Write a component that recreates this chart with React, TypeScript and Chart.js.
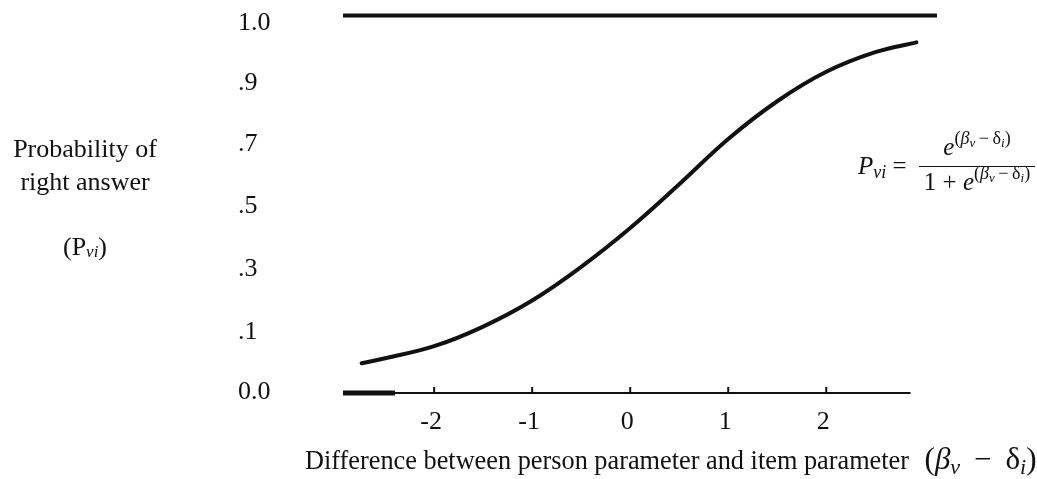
import React, { useEffect, useRef } from "react";
import { Chart, registerables } from "chart.js";

Chart.register(...registerables);

// ---- data ----
const curveX = [-2.74, -2.5, -2, -1.5, -1, -0.5, 0, 0.5, 1, 1.5, 2, 2.5, 2.92];
const curveP = [0.079, 0.092, 0.124, 0.176, 0.245, 0.334, 0.437, 0.553, 0.673, 0.773, 0.851, 0.903, 0.929];
const upperLineX = [-2.93, 3.13];
const upperLineP = [1, 1];
const baseLineX = [-2.93, 2.86];
const baseLineP = [0, 0];
const baseStubX = [-2.93, -2.4];
const baseStubP = [0, 0];
const xTickValues = [-2, -1, 0, 1, 2];
const xTickLabels = ["-2", "-1", "0", "1", "2"];
const yTickValues = [0.003, 0.16, 0.329, 0.495, 0.658, 0.82, 0.98];
const yTickLabels = ["0.0", ".1", ".3", ".5", ".7", ".9", "1.0"];
const xMin = -2.93;
const xMax = 3.13;

const SERIF = '"Liberation Serif", "Times New Roman", serif';
const INK = "#111";

type Run = { t: string; f: string; dy?: number };

const toPts = (xs: number[], ys: number[]) => xs.map((x, i) => ({ x, y: ys[i] }));

function runsWidth(ctx: CanvasRenderingContext2D, runs: Run[]) {
  let w = 0;
  for (const r of runs) {
    ctx.font = r.f;
    w += ctx.measureText(r.t).width;
  }
  return w;
}

function drawRuns(ctx: CanvasRenderingContext2D, runs: Run[], x: number, y: number) {
  let cx = x;
  for (const r of runs) {
    ctx.font = r.f;
    ctx.fillText(r.t, cx, y + (r.dy || 0));
    cx += ctx.measureText(r.t).width;
  }
  return cx;
}

const overlayPlugin = {
  id: "overlay",
  afterDatasetsDraw(chart: any) {
    const ctx: CanvasRenderingContext2D = chart.ctx;
    const xs = chart.scales.x;
    const ys = chart.scales.y;
    ctx.save();
    ctx.strokeStyle = INK;
    ctx.lineWidth = 2;
    const y0 = ys.getPixelForValue(0);
    for (const v of xTickValues) {
      const px = xs.getPixelForValue(v);
      ctx.beginPath();
      ctx.moveTo(px, y0);
      ctx.lineTo(px, y0 - 6);
      ctx.stroke();
    }
    ctx.restore();
  },
  afterDraw(chart: any) {
    const ctx: CanvasRenderingContext2D = chart.ctx;
    ctx.save();
    ctx.fillStyle = INK;
    ctx.textBaseline = "alphabetic";

    // left title
    ctx.textAlign = "center";
    ctx.font = `26px ${SERIF}`;
    ctx.fillText("Probability of", 85, 157);
    ctx.fillText("right answer", 85, 190);
    ctx.textAlign = "left";
    const pvi: Run[] = [
      { t: "(P", f: `26px ${SERIF}` },
      { t: "vi", f: `italic 17px ${SERIF}`, dy: 2 },
      { t: ")", f: `26px ${SERIF}` },
    ];
    drawRuns(ctx, pvi, 85 - runsWidth(ctx, pvi) / 2, 255);

    // x-axis title
    ctx.font = `26.3px ${SERIF}`;
    const txt = "Difference between person parameter and item parameter ";
    ctx.fillText(txt, 305, 469);
    const tx = 305 + ctx.measureText(txt).width + 9;
    const mathT: Run[] = [
      { t: "(", f: `31px ${SERIF}` },
      { t: "β", f: `italic 31px ${SERIF}` },
      { t: "v", f: `italic 22px ${SERIF}`, dy: 5 },
      { t: "\u2009 − \u2009", f: `31px ${SERIF}` },
      { t: "δ", f: `31px ${SERIF}` },
      { t: "i", f: `italic 22px ${SERIF}`, dy: 5 },
      { t: ")", f: `31px ${SERIF}` },
    ];
    drawRuns(ctx, mathT, tx, 469);

    // formula
    const sup = (base: number): Run[] => [
      { t: "(", f: `18px ${SERIF}`, dy: base },
      { t: "β", f: `italic 18px ${SERIF}`, dy: base },
      { t: "v", f: `italic 13px ${SERIF}`, dy: base + 3 },
      { t: "\u2009−\u2009", f: `18px ${SERIF}`, dy: base },
      { t: "δ", f: `18px ${SERIF}`, dy: base },
      { t: "i", f: `italic 13px ${SERIF}`, dy: base + 3 },
      { t: ")", f: `18px ${SERIF}`, dy: base },
    ];
    const lhs: Run[] = [
      { t: "P", f: `italic 25px ${SERIF}` },
      { t: "vi", f: `italic 18px ${SERIF}`, dy: 4 },
      { t: " = ", f: `25px ${SERIF}` },
    ];
    drawRuns(ctx, lhs, 858, 174);
    const barL = 919;
    const barR = 1035;
    const cx = (barL + barR) / 2;
    const num: Run[] = [{ t: "e", f: `italic 25px ${SERIF}` }, ...sup(-11)];
    drawRuns(ctx, num, cx - runsWidth(ctx, num) / 2, 155);
    const den: Run[] = [
      { t: "1 + ", f: `25px ${SERIF}` },
      { t: "e", f: `italic 25px ${SERIF}` },
      ...sup(-11),
    ];
    drawRuns(ctx, den, cx - runsWidth(ctx, den) / 2, 190);
    ctx.strokeStyle = INK;
    ctx.lineWidth = 1;
    ctx.beginPath();
    ctx.moveTo(barL, 166.5);
    ctx.lineTo(barR, 166.5);
    ctx.stroke();

    ctx.restore();
  },
};

export default function App() {
  const ref = useRef<HTMLCanvasElement | null>(null);

  useEffect(() => {
    if (!ref.current) return;
    const lineDs = (pts: { x: number; y: number }[], w: number, extra: any = {}) => ({
      data: pts,
      showLine: true,
      borderColor: INK,
      backgroundColor: INK,
      borderWidth: w,
      pointRadius: 0,
      pointHoverRadius: 0,
      clip: false,
      borderCapStyle: "round",
      ...extra,
    });
    const chart = new Chart(ref.current, {
      type: "scatter",
      data: {
        datasets: [
          lineDs(toPts(upperLineX, upperLineP), 4, { borderCapStyle: "butt" }),
          lineDs(toPts(baseLineX, baseLineP), 2, { borderCapStyle: "butt" }),
          lineDs(toPts(baseStubX, baseStubP), 5, { borderCapStyle: "butt" }),
          lineDs(toPts(curveX, curveP), 4, { tension: 0.4 }),
        ] as any,
      },
      options: {
        responsive: false,
        animation: false,
        devicePixelRatio: 1,
        layout: { padding: { left: 238, right: 100, top: 13, bottom: 0 } },
        plugins: { legend: { display: false }, tooltip: { enabled: false } },
        scales: {
          x: {
            type: "linear",
            min: xMin,
            max: xMax,
            grid: { display: false, drawTicks: false },
            border: { display: false },
            afterBuildTicks: (s: any) => {
              s.ticks = xTickValues.map((v) => ({ value: v }));
            },
            afterFit: (s: any) => {
              s.height = 86;
            },
            ticks: {
              callback: (_v: any, i: number) => xTickLabels[i],
              font: { family: SERIF, size: 26 },
              color: INK,
              padding: 14,
              labelOffset: -3,
              maxRotation: 0,
              autoSkip: false,
            },
          },
          y: {
            type: "linear",
            min: 0,
            max: 1,
            grid: { display: false, drawTicks: false },
            border: { display: false },
            afterBuildTicks: (s: any) => {
              s.ticks = yTickValues.map((v) => ({ value: v }));
            },
            afterFit: (s: any) => {
              s.width = 105;
            },
            ticks: {
              callback: (_v: any, i: number) => yTickLabels[i],
              font: { family: SERIF, size: 26 },
              color: INK,
              padding: 0,
              crossAlign: "far",
              autoSkip: false,
            },
          },
        },
      } as any,
      plugins: [overlayPlugin],
    });
    return () => chart.destroy();
  }, []);

  return (
    <div style={{ position: "absolute", left: 0, top: 0, width: 1037, height: 479, background: "#fff" }}>
      <canvas ref={ref} width={1037} height={479} style={{ display: "block" }} />
    </div>
  );
}
